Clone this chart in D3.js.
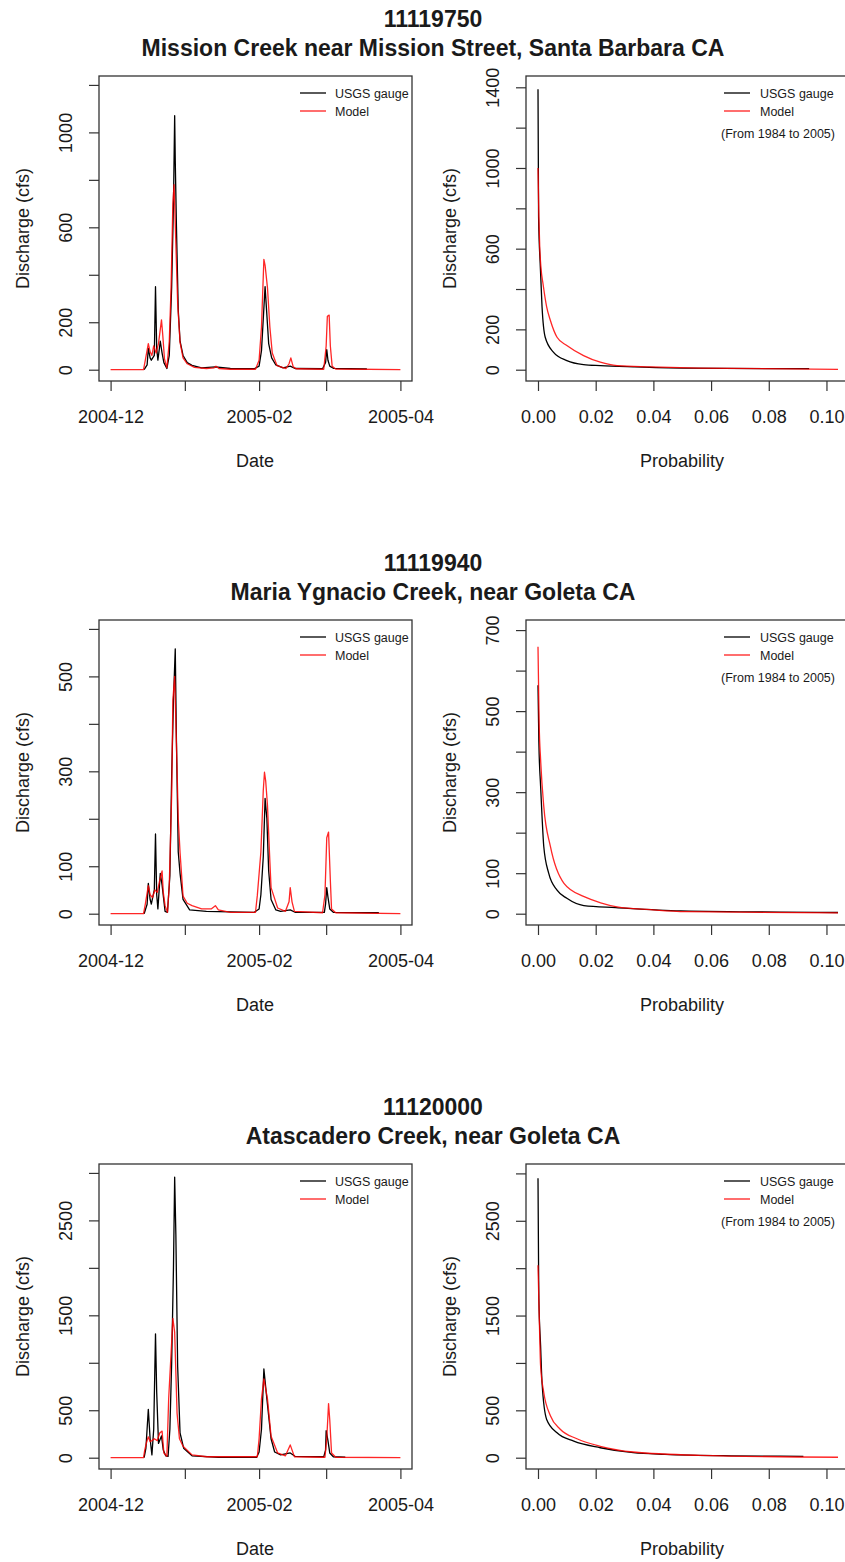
<!DOCTYPE html>
<html>
<head>
<meta charset="utf-8">
<script src="https://cdn.jsdelivr.net/npm/d3@7"></script>
<style>
  html, body { margin: 0; padding: 0; background: #ffffff; }
  svg { display: block; font-family: "Liberation Sans", Arial, sans-serif; }
</style>
</head>
<body>
<svg id="chart" width="845" height="1562"></svg>
<script>
// ---------------- DATA ----------------
const stationIds = ["11119750", "11119940", "11120000"];
const stationNames = [
  "Mission Creek near Mission Street, Santa Barbara CA",
  "Maria Ygnacio Creek, near Goleta CA",
  "Atascadero Creek, near Goleta CA"
];
const seriesNames = ["USGS gauge", "Model"];
const periodNote = "(From 1984 to 2005)";

// time-series y limits (cfs) and tick values / labelled ticks
const tsYMax = [1190, 595, 2975];
const tsYTicks = [[0,200,400,600,800,1000,1200],[0,100,200,300,400,500,600],[0,500,1000,1500,2000,2500,3000]];
const tsYLabels = [[0,200,600,1000],[0,100,300,500],[0,500,1500,2500]];
// flow duration y limits and ticks
const fdcYMax = [1400, 697, 2980];
const fdcYTicks = [[0,200,400,600,800,1000,1200,1400],[0,100,200,300,400,500,600,700],[0,500,1000,1500,2000,2500,3000]];
const fdcYLabels = [[0,200,600,1000,1400],[0,100,300,500,700],[0,500,1500,2500]];

const dateTicks = ["2004-12-01 00","2005-01-01 00","2005-02-01 00","2005-03-01 00","2005-04-01 00"];
const dateLabels = ["2004-12","","2005-02","","2005-04"];
const dateRange = ["2004-12-01 00","2005-04-01 00"];
const probTicks = [0, 0.02, 0.04, 0.06, 0.08, 0.10];
const probRange = [0, 0.104];

// Station 1: Mission Creek
const gauge1 = [
 ["2004-12-15 00",0],["2004-12-16 06",20],["2004-12-16 18",90],["2004-12-17 12",50],["2004-12-18 00",40],
 ["2004-12-19 06",60],["2004-12-19 18",350],["2004-12-20 06",90],["2004-12-20 18",40],["2004-12-21 18",120],
 ["2004-12-22 12",70],["2004-12-23 06",30],["2004-12-24 12",5],["2004-12-25 12",60],["2004-12-26 12",350],
 ["2004-12-27 06",700],["2004-12-27 18",1070],["2004-12-28 00",880],["2004-12-28 12",600],["2004-12-29 06",250],
 ["2004-12-30 00",120],["2004-12-31 06",60],["2005-01-02 00",30],["2005-01-04 00",18],["2005-01-08 00",8],
 ["2005-01-13 18",12],["2005-01-20 00",5],["2005-01-30 00",4],["2005-02-01 00",15],["2005-02-02 00",80],
 ["2005-02-03 00",260],["2005-02-03 12",350],["2005-02-04 06",230],["2005-02-05 00",110],["2005-02-06 06",50],
 ["2005-02-08 00",20],["2005-02-11 00",8],["2005-02-14 00",15],["2005-02-16 00",5],["2005-02-27 12",4],
 ["2005-02-28 18",30],["2005-03-01 06",85],["2005-03-01 18",40],["2005-03-02 12",15],["2005-03-04 00",6],
 ["2005-03-18 00",3]
];
const model1 = [
 ["2004-12-01 00",0],["2004-12-14 18",0],["2004-12-15 12",40],["2004-12-16 18",110],["2004-12-17 12",75],
 ["2004-12-18 06",60],["2004-12-19 00",100],["2004-12-20 00",70],["2004-12-21 00",110],["2004-12-22 06",210],
 ["2004-12-22 18",150],["2004-12-23 12",45],["2004-12-24 12",8],["2004-12-25 12",120],["2004-12-26 06",345],
 ["2004-12-27 00",700],["2004-12-27 12",780],["2004-12-28 06",530],["2004-12-29 00",280],["2004-12-30 00",115],
 ["2004-12-31 06",50],["2005-01-02 00",25],["2005-01-05 00",10],["2005-01-10 00",5],["2005-01-13 06",8],
 ["2005-01-14 00",15],["2005-01-15 06",5],["2005-01-20 00",2],["2005-01-30 12",2],["2005-02-01 00",40],
 ["2005-02-02 00",180],["2005-02-03 00",465],["2005-02-03 12",440],["2005-02-04 12",345],["2005-02-05 12",180],
 ["2005-02-06 12",70],["2005-02-08 12",17],["2005-02-12 06",5],["2005-02-13 12",25],["2005-02-14 06",50],
 ["2005-02-15 06",12],["2005-02-16 12",4],["2005-02-28 00",2],["2005-03-01 00",100],["2005-03-01 12",225],
 ["2005-03-02 06",230],["2005-03-02 18",100],["2005-03-03 12",15],["2005-03-05 00",3],["2005-04-01 00",0]
];
// Station 2: Maria Ygnacio Creek
const gauge2 = [
 ["2004-12-15 00",0],["2004-12-16 06",20],["2004-12-16 18",64],["2004-12-17 12",30],["2004-12-18 00",20],
 ["2004-12-19 06",50],["2004-12-19 18",168],["2004-12-20 06",40],["2004-12-20 18",10],["2004-12-21 18",85],
 ["2004-12-22 12",60],["2004-12-23 18",5],["2004-12-24 18",3],["2004-12-25 18",80],["2004-12-26 12",290],
 ["2004-12-27 06",450],["2004-12-28 00",558],["2004-12-28 12",360],["2004-12-29 06",130],["2004-12-30 00",85],
 ["2004-12-31 06",30],["2005-01-03 00",8],["2005-01-10 00",5],["2005-01-30 00",3],["2005-02-01 00",10],
 ["2005-02-01 18",40],["2005-02-02 18",120],["2005-02-03 12",243],["2005-02-04 06",200],["2005-02-05 00",90],
 ["2005-02-06 00",30],["2005-02-08 00",8],["2005-02-10 00",5],["2005-02-14 00",8],["2005-02-16 00",3],
 ["2005-02-28 06",3],["2005-02-28 18",20],["2005-03-01 06",55],["2005-03-01 18",35],["2005-03-02 12",10],
 ["2005-03-04 00",3],["2005-03-23 00",2]
];
const model2 = [
 ["2004-12-01 00",0],["2004-12-14 18",0],["2004-12-15 12",20],["2004-12-16 18",59],["2004-12-17 12",40],
 ["2004-12-18 12",34],["2004-12-19 12",50],["2004-12-20 12",45],["2004-12-21 12",70],["2004-12-22 12",90],
 ["2004-12-23 00",45],["2004-12-23 18",17],["2004-12-24 18",3],["2004-12-25 12",60],["2004-12-26 12",250],
 ["2004-12-27 00",450],["2004-12-27 18",500],["2004-12-28 12",356],["2004-12-29 06",200],["2004-12-30 00",129],
 ["2004-12-31 06",37],["2005-01-02 00",22],["2005-01-04 00",17],["2005-01-08 00",10],["2005-01-12 00",10],
 ["2005-01-13 18",17],["2005-01-15 00",8],["2005-01-20 00",3],["2005-01-30 12",3],["2005-01-31 06",38],
 ["2005-02-01 18",130],["2005-02-02 18",260],["2005-02-03 06",298],["2005-02-03 18",280],["2005-02-04 12",228],
 ["2005-02-05 12",110],["2005-02-06 00",55],["2005-02-08 18",12],["2005-02-12 00",5],["2005-02-13 12",25],
 ["2005-02-14 00",55],["2005-02-14 18",25],["2005-02-15 18",5],["2005-02-27 12",2],["2005-02-28 12",40],
 ["2005-03-01 06",160],["2005-03-02 00",172],["2005-03-02 18",70],["2005-03-03 06",10],["2005-03-05 00",2],
 ["2005-04-01 00",0]
];
// Station 3: Atascadero Creek
const gauge3 = [
 ["2004-12-15 00",0],["2004-12-15 18",100],["2004-12-16 18",510],["2004-12-17 12",200],["2004-12-18 06",30],
 ["2004-12-19 00",300],["2004-12-19 18",1305],["2004-12-20 06",690],["2004-12-21 00",150],["2004-12-22 06",230],
 ["2004-12-23 00",80],["2004-12-24 00",20],["2004-12-25 00",15],["2004-12-25 18",300],["2004-12-26 12",1000],
 ["2004-12-27 06",2000],["2004-12-27 18",2955],["2004-12-28 06",2355],["2004-12-29 00",960],["2004-12-30 00",260],
 ["2004-12-31 12",100],["2005-01-04 00",20],["2005-01-15 00",5],["2005-01-31 00",5],["2005-02-01 00",60],
 ["2005-02-02 00",300],["2005-02-03 00",935],["2005-02-04 06",620],["2005-02-06 00",200],["2005-02-07 12",60],
 ["2005-02-10 00",30],["2005-02-14 00",50],["2005-02-16 00",15],["2005-02-28 00",10],["2005-02-28 18",80],
 ["2005-03-01 00",285],["2005-03-01 18",180],["2005-03-02 12",50],["2005-03-04 00",10],["2005-03-09 00",5]
];
const model3 = [
 ["2004-12-01 00",0],["2004-12-14 18",0],["2004-12-15 06",80],["2004-12-16 00",160],["2004-12-16 18",220],
 ["2004-12-17 12",170],["2004-12-18 06",180],["2004-12-19 06",200],["2004-12-20 12",180],["2004-12-21 12",260],
 ["2004-12-22 12",280],["2004-12-23 06",50],["2004-12-24 12",15],["2004-12-25 06",620],["2004-12-26 06",1100],
 ["2004-12-27 00",1467],["2004-12-27 18",1320],["2004-12-28 18",470],["2004-12-29 18",200],["2004-12-31 06",120],
 ["2005-01-04 00",30],["2005-01-10 00",10],["2005-01-31 06",10],["2005-02-01 00",200],["2005-02-02 00",620],
 ["2005-02-03 00",830],["2005-02-04 12",620],["2005-02-06 00",225],["2005-02-08 18",50],["2005-02-12 00",20],
 ["2005-02-14 00",135],["2005-02-15 18",10],["2005-02-28 12",5],["2005-03-01 06",200],["2005-03-02 00",570],
 ["2005-03-02 12",400],["2005-03-03 06",50],["2005-03-05 00",5],["2005-04-01 00",0]
];

// Flow duration curves: [exceedance probability, discharge]
const fdcGauge1 = [[0,1390],[0.0002,760],[0.0008,511],[0.0014,312],[0.0025,161],[0.0054,86],[0.010,45],[0.0158,25],[0.0216,20],[0.033,14],[0.05,8],[0.094,5]];
const fdcModel1 = [[0,1000],[0.0003,760],[0.0006,610],[0.001,511],[0.0018,420],[0.003,312],[0.0043,244],[0.0066,161],[0.010,120],[0.0158,70],[0.0216,37],[0.0274,20],[0.039,14],[0.056,8],[0.104,2]];
const fdcGauge2 = [[0,564],[0.0002,470],[0.0003,423],[0.0009,315],[0.0014,240],[0.002,166],[0.0037,100],[0.0066,58],[0.010,38],[0.0159,20],[0.027,15],[0.0495,7],[0.104,3]];
const fdcModel2 = [[0,659],[0.0002,560],[0.0004,470],[0.0009,381],[0.002,265],[0.0043,166],[0.009,75],[0.016,42],[0.0217,27],[0.0274,17],[0.039,10],[0.0512,5],[0.104,2]];
const fdcGauge3 = [[0,2950],[0.0002,2000],[0.0003,1680],[0.0009,1183],[0.0014,793],[0.003,404],[0.0066,263],[0.0124,174],[0.0216,105],[0.033,53],[0.044,35],[0.067,20],[0.092,15]];
const fdcModel3 = [[0,2030],[0.0005,1400],[0.0009,970],[0.002,688],[0.0043,443],[0.0077,300],[0.0135,200],[0.0216,120],[0.033,60],[0.056,25],[0.104,5]];

const tsGauge = [gauge1, gauge2, gauge3];
const tsModel = [model1, model2, model3];
const fdcGauge = [fdcGauge1, fdcGauge2, fdcGauge3];
const fdcModel = [fdcModel1, fdcModel2, fdcModel3];

// ---------------- LAYOUT ----------------
const ROW = 544;
const BOX_T = 76, BOX_B = 381;
const LBOX = [99, 412], RBOX = [526, 850];
const TEXT = "#1a1a1a";
const FONT = "'Liberation Sans', Arial, sans-serif";

const parse = d3.timeParse("%Y-%m-%d %H");
const svg = d3.select("#chart");

function pad(lo, hi) { const r = hi - lo; return [lo - 0.04 * r, hi + 0.04 * r]; }

function drawPanel(g, box, x, y, yTicks, yLabels, xAxisGen, xTitle, titleX, series, curve) {
  // lines
  series.forEach(s => {
    const line = d3.line().x(d => x(d[0])).y(d => y(d[1])).curve(curve);
    g.append("path").datum(s.data)
      .attr("fill", "none").attr("stroke", s.color).attr("stroke-width", s.width)
      .attr("stroke-opacity", s.opacity).attr("stroke-linejoin", "round")
      .attr("d", line);
  });
  // box
  g.append("rect").attr("x", box[0]).attr("y", BOX_T)
    .attr("width", box[1] - box[0]).attr("height", BOX_B - BOX_T)
    .attr("fill", "none").attr("stroke", "#333").attr("stroke-width", 1.3);
  // y axis
  const ya = g.append("g").attr("transform", `translate(${box[0]},0)`)
    .call(d3.axisLeft(y).tickValues(yTicks).tickSize(10)
      .tickFormat(d => yLabels.includes(d) ? String(d) : ""));
  ya.select(".domain").remove();
  ya.selectAll(".tick line").attr("stroke", "#333").attr("stroke-width", 1.2);
  ya.selectAll(".tick text").attr("transform", "rotate(-90)")
    .attr("x", 0).attr("y", -27).attr("dy", 0).attr("text-anchor", "middle")
    .attr("fill", TEXT).style("font-size", "18px").style("font-family", FONT);
  // x axis
  const xa = g.append("g").attr("transform", `translate(0,${BOX_B})`).call(xAxisGen);
  xa.select(".domain").remove();
  xa.selectAll(".tick line").attr("stroke", "#333").attr("stroke-width", 1.2);
  xa.selectAll(".tick text").attr("y", 42).attr("dy", 0)
    .attr("fill", TEXT).style("font-size", "18px").style("font-family", FONT);
  // titles
  g.append("text").attr("x", titleX).attr("y", 467)
    .attr("text-anchor", "middle").attr("fill", TEXT)
    .style("font-size", "18px").text(xTitle);
  g.append("text").attr("transform", `translate(${box[0] - 70},${(BOX_T + BOX_B) / 2}) rotate(-90)`)
    .attr("text-anchor", "middle").attr("fill", TEXT)
    .style("font-size", "18px").text("Discharge (cfs)");
}

function legend(g, lx, tx, withNote, noteX) {
  const rows = [{ c: "#000", t: seriesNames[0], y: 93 }, { c: "#ff2020", t: seriesNames[1], y: 111 }];
  rows.forEach(r => {
    g.append("line").attr("x1", lx).attr("x2", lx + 26).attr("y1", r.y).attr("y2", r.y)
      .attr("stroke", r.c).attr("stroke-width", 1.3);
    g.append("text").attr("x", tx).attr("y", r.y + 4.5).attr("fill", TEXT)
      .style("font-size", "12.5px").text(r.t);
  });
  if (withNote) {
    g.append("text").attr("x", noteX).attr("y", 137.5).attr("text-anchor", "middle")
      .attr("fill", TEXT).style("font-size", "12.5px").text(periodNote);
  }
}

stationIds.forEach((id, i) => {
  const g = svg.append("g").attr("transform", `translate(0,${i * ROW})`)
    .style("font-family", FONT);

  // Titles
  g.append("text").attr("x", 433).attr("y", 27).attr("text-anchor", "middle")
    .attr("fill", TEXT).style("font-size", "23px").style("font-weight", "bold").text(id);
  g.append("text").attr("x", 433).attr("y", 56).attr("text-anchor", "middle")
    .attr("fill", TEXT).style("font-size", "23px").style("font-weight", "bold").text(stationNames[i]);

  // ---- Time series panel ----
  const d0 = parse(dateRange[0]), d1 = parse(dateRange[1]);
  const span = d1 - d0;
  const xT = d3.scaleTime().domain([new Date(+d0 - 0.04 * span), new Date(+d1 + 0.04 * span)]).range(LBOX);
  const yT = d3.scaleLinear().domain(pad(0, tsYMax[i])).range([BOX_B, BOX_T]);
  const xTicks = dateTicks.map(parse);
  const xAxisT = d3.axisBottom(xT).tickValues(xTicks).tickSize(10)
    .tickFormat((d, k) => dateLabels[k]);
  drawPanel(g, LBOX, xT, yT, tsYTicks[i], tsYLabels[i], xAxisT, "Date", 255, [
    { data: tsGauge[i].map(d => [parse(d[0]), d[1]]), color: "#000", width: 1.3, opacity: 1 },
    { data: tsModel[i].map(d => [parse(d[0]), d[1]]), color: "#ff0000", width: 1.3, opacity: 0.85 }
  ], d3.curveLinear);
  legend(g, 300, 335, false);

  // ---- Flow duration panel ----
  const xP = d3.scaleLinear().domain(pad(probRange[0], probRange[1])).range(RBOX);
  const yP = d3.scaleLinear().domain(pad(0, fdcYMax[i])).range([BOX_B, BOX_T]);
  const xAxisP = d3.axisBottom(xP).tickValues(probTicks).tickSize(10).tickFormat(d3.format(".2f"));
  drawPanel(g, RBOX, xP, yP, fdcYTicks[i], fdcYLabels[i], xAxisP, "Probability", 682, [
    { data: fdcGauge[i], color: "#000", width: 1.3, opacity: 1 },
    { data: fdcModel[i], color: "#ff0000", width: 1.3, opacity: 0.85 }
  ], d3.curveMonotoneX);
  legend(g, 724, 760, true, 778);
});
</script>
</body>
</html>
